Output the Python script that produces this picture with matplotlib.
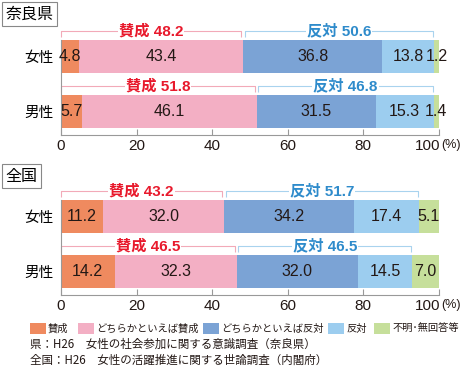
import matplotlib.pyplot as plt
import numpy as np
from matplotlib.patches import Rectangle

plt.rcParams['font.family'] = ['Liberation Sans', 'Noto Sans CJK JP']

groups = ["女性", "男性"]
nara = {
    "賛成": [4.8, 5.7],
    "どちらかといえば賛成": [43.4, 46.1],
    "どちらかといえば反対": [36.8, 31.5],
    "反対": [13.8, 15.3],
    "不明･無回答等": [1.2, 1.4],
}
zenkoku = {
    "賛成": [11.2, 14.2],
    "どちらかといえば賛成": [32.0, 32.3],
    "どちらかといえば反対": [34.2, 32.0],
    "反対": [17.4, 14.5],
    "不明･無回答等": [5.1, 7.0],
}
nara_agree = [48.2, 51.8]
nara_oppose = [50.6, 46.8]
zenkoku_agree = [43.2, 46.5]
zenkoku_oppose = [51.7, 46.5]
xticks = [0, 20, 40, 60, 80, 100]

colors = ["#EF8A5F", "#F3AFC4", "#7BA3D5", "#9CCDEF", "#C6DF9B"]
red = "#E8192C"
blue = "#2E8BCB"
ink = "#231815"
cjk = ['Noto Sans CJK JP', 'DejaVu Sans']

fig = plt.figure(figsize=(4.65, 3.70), dpi=100)


def bracket(ax, x0, x1, y, label, lc, tc):
    drop = 0.11
    ax.plot([x0, x0, x1, x1], [y + drop, y, y, y + drop], color=lc, lw=0.8,
            clip_on=False, solid_capstyle='butt')
    ax.text((x0 + x1) / 2, y, label, color=tc, fontsize=11, fontweight='bold',
            ha='center', va='center',
            bbox=dict(facecolor='white', edgecolor='none', pad=0.8))


def panel(rect, data, agree, oppose, title, title_y):
    ax = fig.add_axes(rect)
    ypos = np.arange(len(groups))
    left = np.zeros(len(groups))
    for (name, vals), c in zip(data.items(), colors):
        vals = np.array(vals)
        ax.barh(ypos, vals, left=left, height=0.6, color=c, edgecolor='none')
        for y, l, v in zip(ypos, left, vals):
            ax.text(l + v / 2, y, f"{v:.1f}", ha='center', va='center',
                    fontsize=11.5, color=ink)
        left = left + vals
    for i, y in enumerate(ypos):
        a = data["賛成"][i] + data["どちらかといえば賛成"][i]
        o = data["どちらかといえば反対"][i] + data["反対"][i]
        bracket(ax, 0, a - 0.5, y - 0.465, f"賛成 {agree[i]}", "#F2AAB8", red)
        bracket(ax, a + 0.4, a + o - 0.3, y - 0.465, f"反対 {oppose[i]}", "#A9D3EE", blue)
    ax.set_xlim(0, 100)
    ax.set_ylim(1.427, -0.518)
    ax.set_yticks(ypos)
    ax.set_yticklabels(groups, fontsize=10.5, family=cjk)
    ax.tick_params(axis='y', length=0, pad=5)
    ax.set_xticks(xticks)
    ax.set_xticklabels([str(t) for t in xticks[:-1]] + [""], fontsize=11)
    ax.tick_params(axis='x', direction='in', length=4, color='#999999', pad=3,
                   labelcolor=ink)
    for s in ['top', 'right']:
        ax.spines[s].set_visible(False)
    ax.spines['bottom'].set_color('#999999')
    ax.spines['left'].set_color('#999999')
    ax.spines['left'].set_bounds(1.427, -0.3)
    tr = ax.get_xaxis_transform()
    ax.text(100.4, -0.035, "100", transform=tr, fontsize=11, ha='right',
            va='top', color=ink)
    ax.text(100.6, -0.04, "(%)", transform=tr, fontsize=9, ha='left',
            va='top', color=ink)
    fig.text(0.012, title_y, title, fontsize=11.5, ha='left', va='center',
             family=cjk,
             bbox=dict(facecolor='white', edgecolor='#888888', lw=0.8, pad=2.5))
    return ax


panel([0.131, 0.635, 0.813, 0.289], nara, nara_agree, nara_oppose, "奈良県", 0.962)
panel([0.131, 0.2027, 0.813, 0.289], zenkoku, zenkoku_agree, zenkoku_oppose, "全国", 0.5235)

legend_names = list(nara.keys())
legend_x = [30, 78, 203, 328, 374]
for name, c, x in zip(legend_names, colors, legend_x):
    fig.patches.append(Rectangle((x / 465, 1 - 334 / 370), 16 / 465, 11 / 370,
                                 transform=fig.transFigure, facecolor=c,
                                 edgecolor='none'))
    fig.text((x + 18) / 465, 1 - 328.5 / 370, name, fontsize=7.4,
             ha='left', va='center', color=ink, family=cjk)

fig.text(30 / 465, 1 - 344 / 370, "県：H26　女性の社会参加に関する意識調査（奈良県）",
         fontsize=8.3, ha='left', va='center', color=ink, family=cjk)
fig.text(30 / 465, 1 - 360 / 370, "全国：H26　女性の活躍推進に関する世論調査（内閣府）",
         fontsize=8.3, ha='left', va='center', color=ink, family=cjk)

fig.savefig("out.png", dpi=100)
